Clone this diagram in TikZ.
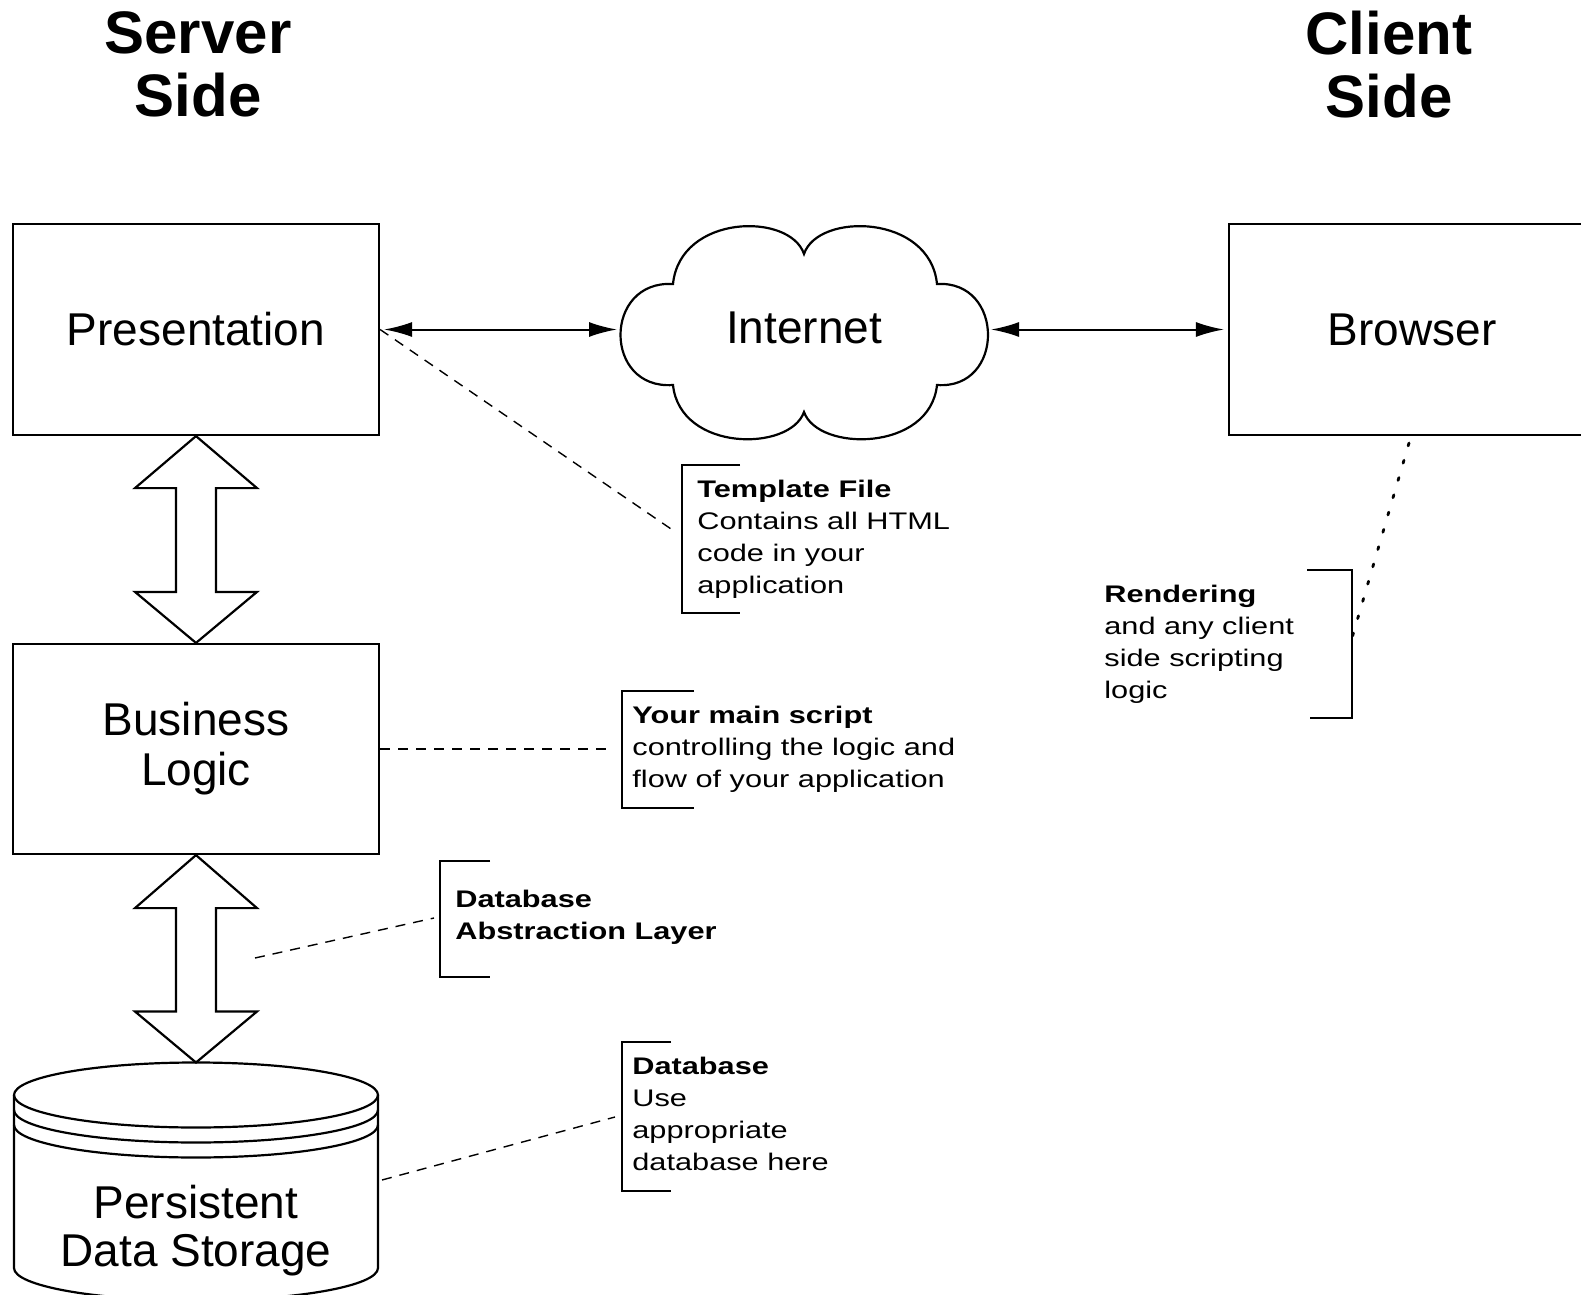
\documentclass[tikz,border=0pt]{standalone}
\usepackage{fontspec}
\setmainfont{Liberation Sans}
\newfontfamily\annfont[FakeStretch=1.28]{Liberation Sans}
\usetikzlibrary{arrows.meta,calc}
\tikzset{
  boxline/.style={line width=1.1pt},
  blockbox/.style={draw, line width=1.1pt, minimum width=183pt, minimum height=105pt, inner sep=0pt, font=\fontsize{23}{25}\selectfont, align=center},
  heading/.style={font=\bfseries\fontsize{30}{31.5}\selectfont, align=center, inner sep=0pt},
  anntext/.style={font=\annfont\fontsize{12}{16}\selectfont, align=left, inner sep=0pt, anchor=north west},
  bracket/.style={line width=1pt},
  dashlink/.style={line width=0.7pt, dash pattern=on 5pt off 4pt},
  dotlink/.style={line width=1.4pt, dash pattern=on 1.5pt off 7.5pt, line cap=round},
  link/.style={line width=1pt, shorten <=2pt, shorten >=2pt, {Latex[length=14pt,width=7.5pt]}-{Latex[length=14pt,width=7.5pt]}},
  dblarrow/.style={line width=1.1pt, line join=miter},
}
\begin{document}
\begin{tikzpicture}[x=0.5pt,y=-0.5pt]
\useasboundingbox (0,0) rectangle (1581,1295);
\clip (0,0) rectangle (1581,1295);
\fill[white] (0,0) rectangle (1581,1295);

% headings
\node[heading, anchor=north] (server) at (198,11) {Server\\Side};
\node[heading, anchor=north] (client) at (1389,11) {Client\\Side};

% boxes
\node[blockbox, minimum height=105.5pt] (pres) at (196,329.5) {Presentation};
\node[blockbox] (biz) at (196,749) {Business\\Logic};
\node[blockbox, minimum height=105.5pt] (browser) at (1412,329.5) {Browser};

% cloud
\draw[boxline, fill=white] (673,284) .. controls (680,214) and (790,212) .. (804,254)
  .. controls (818,212) and (930,214) .. (937,284)
  .. controls (1005,280) and (1005,390) .. (937,385)
  .. controls (930,452) and (818,452) .. (804,412)
  .. controls (790,452) and (680,452) .. (673,385)
  .. controls (603,390) and (603,280) .. (673,284) -- cycle;
\node[font=\fontsize{23}{25}\selectfont, inner sep=0pt] (internet) at (804,328) {Internet};
\coordinate (cloudW) at (621,329.5);
\coordinate (cloudE) at (987,329.5);

\draw[link] (pres.east) -- (cloudW);
\draw[link] (cloudE) -- (browser.west);

% cylinder
\coordinate (cylTop) at (196,1062.5);
\coordinate (cylE) at (382,1180);
\draw[boxline] (196,1095) ellipse [x radius=91pt, y radius=16.25pt];
\draw[boxline] (14,1110) arc[start angle=180, end angle=360, x radius=91pt, y radius=16.25pt];
\draw[boxline] (14,1125) arc[start angle=180, end angle=360, x radius=91pt, y radius=16.25pt];
\draw[boxline] (14,1095) -- (14,1268) arc[start angle=180, end angle=360, x radius=91pt, y radius=16.25pt] -- (378,1095);
\node[font=\fontsize{23}{24}\selectfont, align=center, inner sep=0pt] (store) at (196,1231) {Persistent\\Data Storage};

% double arrows
\draw[dblarrow] (pres.south) -- ++(61,52) -- ++(-41,0) -- ($(biz.north)+(20,-51)$) -- ++(41,0) -- (biz.north) -- ++(-61,-51) -- ++(41,0) -- ($(pres.south)+(-20,52)$) -- ++(-41,0) -- cycle;
\draw[dblarrow] (biz.south) -- ++(61,53) -- ++(-41,0) -- ($(cylTop)+(20,-51)$) -- ++(41,0) -- (cylTop) -- ++(-61,-51) -- ++(41,0) -- ($(biz.south)+(-20,53)$) -- ++(-41,0) -- cycle;

% annotations
\coordinate (tmplB) at (674,531);
\draw[bracket] (740,465) -| (682,613) -- (740,613);
\node[anntext] (tmpl) at (697,480) {\textbf{Template File}\\Contains all HTML\\code in your\\application};
\draw[dashlink] (pres.east) -- (tmplB);

\coordinate (mainB) at (612,749);
\draw[bracket] (694,691) -| (622,808) -- (694,808);
\node[anntext] (mainscript) at (632,706) {\textbf{Your main script}\\controlling the logic and\\flow of your application};
\draw[dashlink] (biz.east) -- (mainB);

\coordinate (abstrA) at (255,958);
\coordinate (abstrB) at (434,918);
\draw[bracket] (490,861) -| (440,977) -- (490,977);
\node[anntext] (abstr) at (455,890) {\textbf{Database}\\\textbf{Abstraction Layer}};
\draw[dashlink] (abstrA) -- (abstrB);

\coordinate (dbB) at (615,1117);
\draw[bracket] (671,1042) -| (622,1191) -- (671,1191);
\node[anntext] (dbnote) at (632,1057) {\textbf{Database}\\Use\\appropriate\\database here};
\draw[dashlink] (cylE) -- (dbB);

\coordinate (rendA) at (1409,443);
\coordinate (rendB) at (1352,638);
\draw[bracket] (1307,570) -- (1352,570) -- (1352,718) -- (1310,718);
\node[anntext] (render) at (1104,585) {\textbf{Rendering}\\and any client\\side scripting\\logic};
\draw[dotlink] (rendA) -- (rendB);
\end{tikzpicture}
\end{document}
